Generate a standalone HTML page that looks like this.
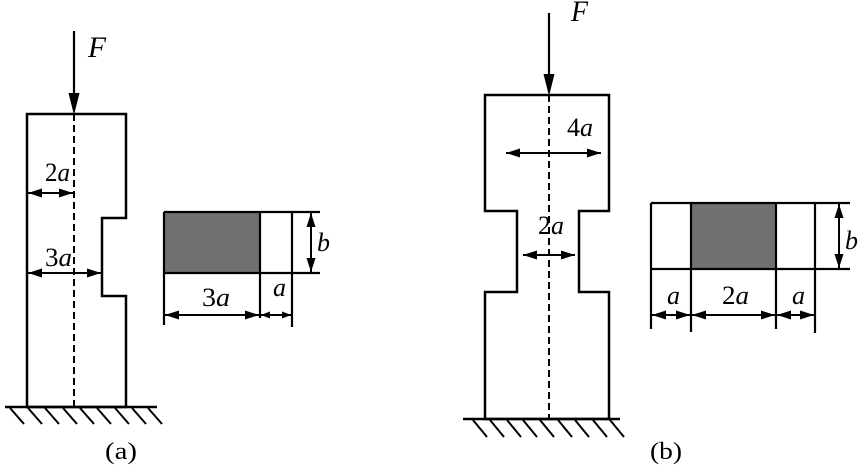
<!DOCTYPE html>
<html><head><meta charset="utf-8"><style>
html,body{margin:0;padding:0;background:#fff;}
svg{display:block;}
text{font-family:"Liberation Serif","Times New Roman",serif;fill:#000;}
.i{font-style:italic;}
</style></head><body>
<svg width="866" height="469" viewBox="0 0 866 469" xmlns="http://www.w3.org/2000/svg">
<defs>
<marker id="ah" viewBox="0 0 14 9" refX="14" refY="4.5" markerWidth="14" markerHeight="9" markerUnits="userSpaceOnUse" orient="auto-start-reverse">
<path d="M0,0 L14,4.5 L0,9 Z" fill="#000"/>
</marker>
<marker id="as" viewBox="0 0 9 7" refX="9" refY="3.5" markerWidth="9" markerHeight="7" markerUnits="userSpaceOnUse" orient="auto-start-reverse">
<path d="M0,0 L9,3.5 L0,7 Z" fill="#000"/>
</marker>
</defs>

<!-- ===== Figure (a) ===== -->
<line x1="74" y1="31" x2="74" y2="104" stroke="#000" stroke-width="2.2"/>
<polygon points="74,115 68.5,93 79.5,93" fill="#000"/>
<text x="88" y="57" font-size="30" class="i" textLength="18" lengthAdjust="spacingAndGlyphs">F</text>

<path d="M27,114 H126 V218 H102 V296 H126 V407 H27 Z" fill="none" stroke="#000" stroke-width="2.5"/>
<line x1="74" y1="114" x2="74" y2="407" stroke="#000" stroke-width="2" stroke-dasharray="7,4"/>

<text x="45" y="181" font-size="26" textLength="25" lengthAdjust="spacingAndGlyphs">2<tspan class="i">a</tspan></text>
<line x1="28" y1="193" x2="73" y2="193" stroke="#000" stroke-width="2" marker-start="url(#ah)" marker-end="url(#ah)"/>
<text x="45" y="266" font-size="26" textLength="27" lengthAdjust="spacingAndGlyphs">3<tspan class="i">a</tspan></text>
<line x1="28" y1="273" x2="101" y2="273" stroke="#000" stroke-width="2" marker-start="url(#ah)" marker-end="url(#ah)"/>

<!-- ground a -->
<line x1="5" y1="407" x2="157" y2="407" stroke="#000" stroke-width="2.4"/>
<g stroke="#000" stroke-width="2">
<line x1="10" y1="408" x2="24" y2="424"/>
<line x1="28" y1="408" x2="42" y2="424"/>
<line x1="45" y1="408" x2="59" y2="424"/>
<line x1="63" y1="408" x2="77" y2="424"/>
<line x1="80" y1="408" x2="94" y2="424"/>
<line x1="97" y1="408" x2="111" y2="424"/>
<line x1="115" y1="408" x2="129" y2="424"/>
<line x1="132" y1="408" x2="146" y2="424"/>
<line x1="148" y1="408" x2="162" y2="424"/>
</g>
<text x="121" y="459" font-size="24" text-anchor="middle" textLength="32" lengthAdjust="spacingAndGlyphs">(a)</text>

<!-- cross-section a -->
<rect x="164" y="212" width="96" height="61" fill="#707070"/>
<g stroke="#000" stroke-width="2.2" fill="none">
<line x1="164" y1="212" x2="320" y2="212"/>
<line x1="164" y1="273" x2="320" y2="273"/>
<line x1="164" y1="212" x2="164" y2="325"/>
<line x1="260" y1="212" x2="260" y2="318"/>
<line x1="292" y1="212" x2="292" y2="327"/>
</g>
<line x1="311" y1="213" x2="311" y2="272" stroke="#000" stroke-width="2" marker-start="url(#ah)" marker-end="url(#ah)"/>
<text x="317" y="251" font-size="26" class="i">b</text>
<line x1="165" y1="315" x2="259" y2="315" stroke="#000" stroke-width="2" marker-start="url(#ah)" marker-end="url(#ah)"/>
<line x1="261" y1="315" x2="291" y2="315" stroke="#000" stroke-width="2" marker-start="url(#as)" marker-end="url(#as)"/>
<text x="202" y="306" font-size="26" textLength="28" lengthAdjust="spacingAndGlyphs">3<tspan class="i">a</tspan></text>
<text x="273" y="296" font-size="26" class="i">a</text>

<!-- ===== Figure (b) ===== -->
<line x1="549" y1="13" x2="549" y2="85" stroke="#000" stroke-width="2.2"/>
<polygon points="549,96 543.5,74 554.5,74" fill="#000"/>
<text x="571" y="21" font-size="30" class="i" textLength="17" lengthAdjust="spacingAndGlyphs">F</text>

<path d="M485,95 H609 V211 H579 V292 H609 V419 H485 V292 H517 V211 H485 Z" fill="none" stroke="#000" stroke-width="2.5"/>
<line x1="549" y1="95" x2="549" y2="419" stroke="#000" stroke-width="2" stroke-dasharray="7,4"/>

<text x="567" y="136" font-size="26" textLength="26" lengthAdjust="spacingAndGlyphs">4<tspan class="i">a</tspan></text>
<line x1="506" y1="153" x2="601" y2="153" stroke="#000" stroke-width="2" marker-start="url(#ah)" marker-end="url(#ah)"/>
<text x="538" y="234" font-size="26" textLength="26" lengthAdjust="spacingAndGlyphs">2<tspan class="i">a</tspan></text>
<line x1="523" y1="255" x2="575" y2="255" stroke="#000" stroke-width="2" marker-start="url(#ah)" marker-end="url(#ah)"/>

<!-- ground b -->
<line x1="463" y1="419" x2="620" y2="419" stroke="#000" stroke-width="2.4"/>
<g stroke="#000" stroke-width="2">
<line x1="473" y1="420" x2="487" y2="437"/>
<line x1="490" y1="420" x2="504" y2="437"/>
<line x1="507" y1="420" x2="521" y2="437"/>
<line x1="523" y1="420" x2="537" y2="437"/>
<line x1="540" y1="420" x2="554" y2="437"/>
<line x1="558" y1="420" x2="572" y2="437"/>
<line x1="575" y1="420" x2="589" y2="437"/>
<line x1="593" y1="420" x2="607" y2="437"/>
<line x1="610" y1="420" x2="624" y2="437"/>
</g>
<text x="666" y="459" font-size="24" text-anchor="middle" textLength="32" lengthAdjust="spacingAndGlyphs">(b)</text>

<!-- cross-section b -->
<rect x="691" y="203" width="85" height="66" fill="#707070"/>
<g stroke="#000" stroke-width="2.2" fill="none">
<line x1="651" y1="203" x2="850" y2="203"/>
<line x1="651" y1="269" x2="850" y2="269"/>
<line x1="651" y1="203" x2="651" y2="329"/>
<line x1="691" y1="203" x2="691" y2="332"/>
<line x1="776" y1="203" x2="776" y2="329"/>
<line x1="815" y1="203" x2="815" y2="333"/>
</g>
<line x1="839" y1="204" x2="839" y2="268" stroke="#000" stroke-width="2" marker-start="url(#ah)" marker-end="url(#ah)"/>
<text x="845" y="249" font-size="26" class="i">b</text>
<line x1="652" y1="315" x2="690" y2="315" stroke="#000" stroke-width="2" marker-start="url(#ah)" marker-end="url(#ah)"/>
<line x1="692" y1="315" x2="775" y2="315" stroke="#000" stroke-width="2" marker-start="url(#ah)" marker-end="url(#ah)"/>
<line x1="777" y1="315" x2="814" y2="315" stroke="#000" stroke-width="2" marker-start="url(#ah)" marker-end="url(#ah)"/>
<text x="667" y="304" font-size="26" class="i">a</text>
<text x="722" y="304" font-size="26" textLength="27" lengthAdjust="spacingAndGlyphs">2<tspan class="i">a</tspan></text>
<text x="792" y="304" font-size="26" class="i">a</text>
</svg>
</body></html>
